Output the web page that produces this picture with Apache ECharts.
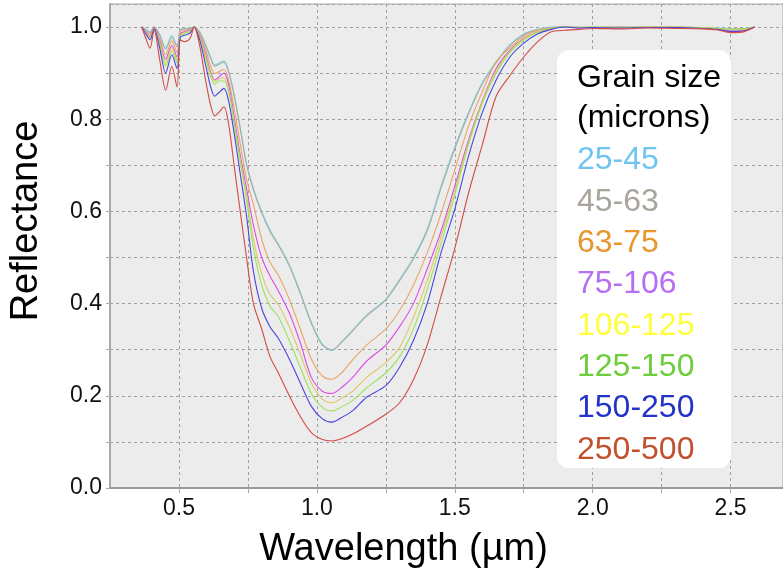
<!DOCTYPE html>
<html><head><meta charset="utf-8">
<script src="https://cdn.jsdelivr.net/npm/echarts@6/dist/echarts.min.js"></script>
<style>html,body{margin:0;padding:0;background:#fff}#chart{width:783px;height:575px}</style>
</head><body><div id="chart"></div>
<script>
// Wavelength (µm)
const wavelengths = [0.365,0.38,0.395,0.41,0.43,0.452,0.474,0.493,0.505,0.52,0.54,0.555,0.575,0.595,0.615,0.63,0.645,
  0.663,0.68,0.70,0.72,0.745,0.77,0.80,0.83,0.86,0.90,0.94,0.98,1.02,1.055,1.09,1.13,1.18,1.25,1.30,1.35,1.40,1.45,1.50,
  1.55,1.60,1.65,1.70,1.75,1.80,1.85,1.90,1.95,2.0,2.1,2.2,2.3,2.4,2.45,2.5,2.55,2.587];

const grainSizes = ['25-45','45-63','63-75','75-106','106-125','125-150','150-250','250-500'];

const r25_45 = [1.0,0.995,0.99,1.0,0.985,0.955,0.982,0.96,0.995,0.997,0.998,1.0,0.99,0.965,0.935,0.918,0.922,
  0.927,0.905,0.855,0.79,0.705,0.65,0.60,0.56,0.53,0.485,0.425,0.36,0.312,0.298,0.318,0.343,0.375,0.41,0.453,0.50,0.562,0.655,0.74,
  0.815,0.88,0.925,0.962,0.985,0.995,1.0,1.0,0.999,1.0,1.0,1.0,1.0,0.999,0.998,0.997,0.996,1.0];
const r45_63 = [1.0,0.995,0.988,1.0,0.983,0.952,0.978,0.957,0.994,0.996,0.997,1.0,0.988,0.962,0.932,0.915,0.919,
  0.924,0.902,0.852,0.787,0.702,0.647,0.597,0.557,0.527,0.482,0.422,0.357,0.31,0.30,0.316,0.341,0.373,0.408,0.45,0.497,0.558,0.65,0.736,
  0.812,0.877,0.922,0.96,0.984,0.994,0.999,1.0,1.0,0.999,1.0,0.999,1.0,0.998,0.997,0.995,0.996,1.0];
const r63_75 = [1.0,0.99,0.985,1.0,0.975,0.94,0.97,0.945,0.99,0.993,0.995,1.0,0.985,0.955,0.915,0.899,0.903,
  0.908,0.885,0.825,0.755,0.67,0.615,0.54,0.49,0.462,0.41,0.345,0.28,0.243,0.236,0.25,0.278,0.31,0.345,0.385,0.44,0.51,0.595,0.69,
  0.785,0.86,0.925,0.955,0.98,0.993,0.998,1.0,0.999,0.999,1.0,0.999,1.0,0.998,0.997,0.995,0.996,1.0];
const r75_106 = [1.0,0.99,0.98,1.0,0.97,0.93,0.96,0.935,0.985,0.99,0.993,1.0,0.98,0.945,0.902,0.885,0.892,
  0.90,0.875,0.805,0.73,0.65,0.57,0.50,0.46,0.428,0.38,0.315,0.24,0.21,0.205,0.218,0.24,0.275,0.31,0.35,0.40,0.475,0.557,0.655,
  0.755,0.84,0.91,0.95,0.975,0.99,0.997,1.0,0.998,0.999,0.998,1.0,0.999,0.998,0.996,0.992,0.993,1.0];
const r106_125 = [1.0,0.988,0.978,0.998,0.967,0.922,0.955,0.928,0.983,0.988,0.992,1.0,0.978,0.94,0.898,0.882,0.888,
  0.89,0.865,0.795,0.72,0.635,0.54,0.465,0.42,0.398,0.35,0.29,0.228,0.193,0.185,0.195,0.21,0.24,0.272,0.305,0.37,0.45,0.545,0.645,
  0.75,0.838,0.905,0.948,0.974,0.99,0.997,1.0,0.999,1.0,0.999,1.0,1.0,0.999,0.997,0.995,0.995,1.0];
const r125_150 = [1.0,0.987,0.976,0.997,0.963,0.915,0.948,0.922,0.981,0.986,0.99,1.0,0.976,0.935,0.892,0.876,0.883,
  0.883,0.86,0.79,0.715,0.625,0.52,0.44,0.395,0.372,0.32,0.262,0.205,0.175,0.167,0.176,0.19,0.217,0.25,0.285,0.345,0.43,0.53,0.635,
  0.745,0.835,0.90,0.945,0.972,0.988,0.997,1.0,0.999,1.0,0.999,1.0,0.999,0.998,0.997,0.994,0.995,1.0];
const r150_250 = [1.0,0.985,0.972,0.996,0.955,0.90,0.94,0.91,0.978,0.982,0.987,1.0,0.972,0.922,0.87,0.85,0.858,
  0.867,0.84,0.77,0.69,0.59,0.47,0.39,0.35,0.325,0.28,0.228,0.177,0.15,0.143,0.153,0.168,0.197,0.222,0.262,0.32,0.40,0.51,0.605,
  0.72,0.815,0.885,0.935,0.965,0.985,0.995,1.0,0.998,0.999,0.998,0.999,0.999,0.997,0.995,0.99,0.992,1.0];
const r250_500 = [1.0,0.975,0.954,0.993,0.93,0.863,0.915,0.87,0.972,0.968,0.975,1.0,0.96,0.89,0.83,0.807,0.815,
  0.827,0.79,0.70,0.61,0.50,0.40,0.345,0.285,0.25,0.20,0.155,0.12,0.105,0.102,0.107,0.117,0.134,0.16,0.185,0.235,0.31,0.415,0.52,
  0.64,0.745,0.85,0.895,0.935,0.968,0.99,0.993,0.995,0.997,0.996,0.998,0.997,0.996,0.994,0.988,0.99,1.0];

const seriesValues = [r25_45, r45_63, r63_75, r75_106, r106_125, r125_150, r150_250, r250_500];
const yTicks = [0.0, 0.2, 0.4, 0.6, 0.8, 1.0];
const xTicks = [0.5, 1.0, 1.5, 2.0, 2.5];

const lineColors = ['#7fdde0','#a9a9a9','#eaa468','#e048e6','#dcc865','#98e45a','#4a44dc','#d44a48'];
const legendColors = ['#6ec6f0','#a9a59d','#e8962e','#b66ff2','#ffff3c','#6dcd3a','#2133c8','#c2502c'];
const FONT = '"Liberation Sans", Arial, Helvetica, sans-serif';

const chart = echarts.init(document.getElementById('chart'), null, {renderer: 'canvas'});
const near = (v, arr) => arr.some(t => Math.abs(t - v) < 1e-6);

chart.setOption({
  animation: false,
  backgroundColor: '#ffffff',
  grid: {left: 110, right: 0, top: 4, bottom: 87, show: true, backgroundColor: '#ececec', borderColor: '#a8a8a8', borderWidth: 1},
  xAxis: {
    type: 'value', min: 0.25, max: 2.69, interval: 0.25,
    name: 'Wavelength (µm)', nameLocation: 'middle', nameGap: 43,
    nameTextStyle: {fontSize: 38, color: '#000', fontFamily: FONT, padding: [0, 86, 0, 0]},
    axisLine: {show: true, lineStyle: {color: '#999', width: 2}},
    axisTick: {show: true, length: 5, lineStyle: {color: '#aaa'}},
    axisLabel: {fontSize: 23, color: '#111', fontFamily: FONT, margin: 9, showMaxLabel: false, showMinLabel: false,
      formatter: v => near(v, xTicks) ? v.toFixed(1) : ''},
    splitLine: {show: true, lineStyle: {color: '#a0a0a0', type: [3, 3], width: 1}}
  },
  yAxis: {
    type: 'value', min: 0, max: 1.05, interval: 0.1,
    name: 'Reflectance', nameLocation: 'middle', nameGap: 64,
    nameTextStyle: {fontSize: 38, color: '#000', fontFamily: FONT, padding: [0, 0, 0, 50]},
    axisLine: {show: true, lineStyle: {color: '#aaa', width: 2}},
    axisTick: {show: true, length: 4, lineStyle: {color: '#aaa'}},
    axisLabel: {fontSize: 23, color: '#111', fontFamily: FONT, margin: 8, showMaxLabel: false,
      formatter: v => near(v, yTicks) ? v.toFixed(1) : ''},
    splitLine: {show: true, lineStyle: {color: '#a0a0a0', type: [3, 3], width: 1}}
  },
  legend: {
    orient: 'vertical', left: 567, top: 135, icon: 'none', itemWidth: 0, itemHeight: 20, itemGap: 0,
    selectedMode: false, z: 6,
    textStyle: {fontSize: 32, fontFamily: FONT, lineHeight: 41.3},
    data: grainSizes.map((n, i) => ({name: n, textStyle: {color: legendColors[i]}}))
  },
  graphic: [
    {type: 'rect', z: 5, shape: {x: 557, y: 50, width: 174, height: 418, r: 12}, style: {fill: '#ffffff'}},
    {type: 'text', z: 6, x: 577, y: 78, style: {text: 'Grain size', fontSize: 32, fontFamily: FONT, fill: '#000', textVerticalAlign: 'middle'}},
    {type: 'text', z: 6, x: 577, y: 118, style: {text: '(microns)', fontSize: 32, fontFamily: FONT, fill: '#000', textVerticalAlign: 'middle'}}
  ],
  series: grainSizes.map((n, i) => ({
    name: n, type: 'line', showSymbol: false, smooth: 0.3,
    lineStyle: {color: lineColors[i], width: 1.1}, itemStyle: {color: lineColors[i]},
    data: wavelengths.map((w, k) => [w, seriesValues[i][k]])
  }))
});
</script></body></html>
